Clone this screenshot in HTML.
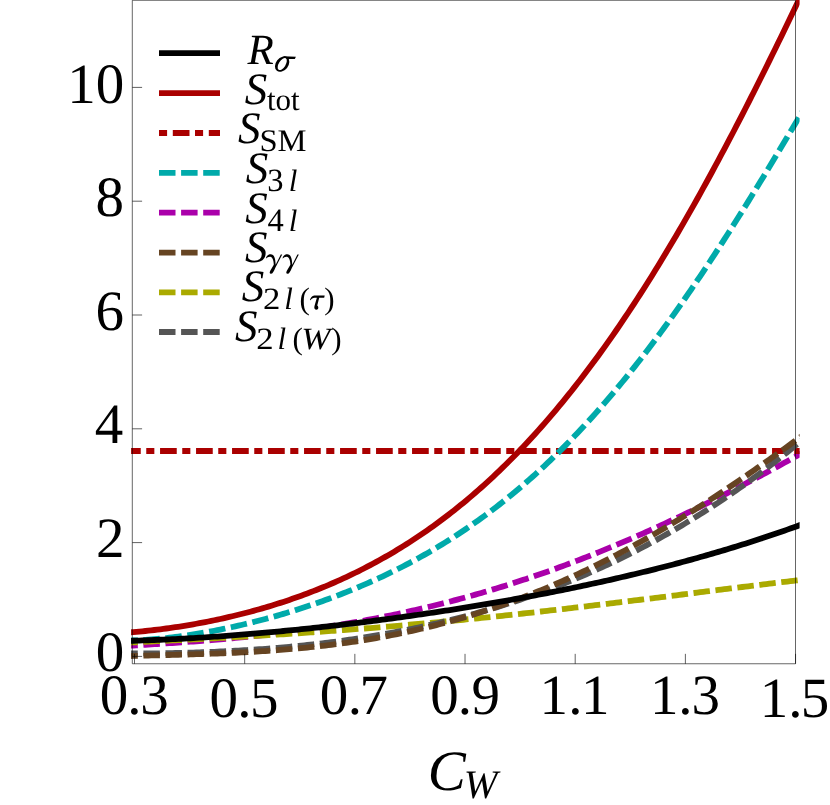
<!DOCTYPE html>
<html><head><meta charset="utf-8"><title>chart</title>
<style>
html,body{margin:0;padding:0;background:#fff;}
body{width:830px;height:805px;overflow:hidden;}
svg{display:block;will-change:transform;}
text{font-family:"Liberation Serif",serif;fill:#000;text-rendering:geometricPrecision;}
</style></head><body>
<svg width="830" height="805" viewBox="0 0 830 805">
<defs><clipPath id="c"><rect x="131.1" y="-5" width="668.5" height="700"/></clipPath></defs>
<rect width="830" height="805" fill="#fff"/>
<g clip-path="url(#c)">
<path d="M121.30,646.21 L124.30,646.04 L127.30,645.86 L130.30,645.68 L133.30,645.50 L136.30,645.32 L139.30,645.14 L142.30,644.95 L145.30,644.77 L148.30,644.58 L151.30,644.39 L154.30,644.20 L157.30,644.01 L160.30,643.82 L163.30,643.62 L166.30,643.42 L169.30,643.22 L172.30,643.01 L175.30,642.81 L178.30,642.60 L181.30,642.39 L184.30,642.17 L187.30,641.95 L190.30,641.73 L193.30,641.51 L196.30,641.28 L199.30,641.05 L202.30,640.81 L205.30,640.57 L208.30,640.33 L211.30,640.09 L214.30,639.84 L217.30,639.58 L220.30,639.32 L223.30,639.06 L226.30,638.79 L229.30,638.52 L232.30,638.25 L235.30,637.97 L238.30,637.68 L241.30,637.39 L244.30,637.10 L247.30,636.80 L250.30,636.49 L253.30,636.18 L256.30,635.87 L259.30,635.55 L262.30,635.22 L265.30,634.89 L268.30,634.56 L271.30,634.22 L274.30,633.87 L277.30,633.52 L280.30,633.16 L283.30,632.79 L286.30,632.42 L289.30,632.05 L292.30,631.66 L295.30,631.27 L298.30,630.88 L301.30,630.48 L304.30,630.07 L307.30,629.66 L310.30,629.24 L313.30,628.81 L316.30,628.38 L319.30,627.94 L322.30,627.49 L325.30,627.04 L328.30,626.58 L331.30,626.11 L334.30,625.63 L337.30,625.15 L340.30,624.66 L343.30,624.17 L346.30,623.67 L349.30,623.16 L352.30,622.64 L355.30,622.11 L358.30,621.58 L361.30,621.04 L364.30,620.50 L367.30,619.94 L370.30,619.38 L373.30,618.81 L376.30,618.23 L379.30,617.65 L382.30,617.05 L385.30,616.45 L388.30,615.85 L391.30,615.23 L394.30,614.61 L397.30,613.97 L400.30,613.33 L403.30,612.69 L406.30,612.03 L409.30,611.36 L412.30,610.69 L415.30,610.01 L418.30,609.32 L421.30,608.63 L424.30,607.92 L427.30,607.21 L430.30,606.49 L433.30,605.76 L436.30,605.02 L439.30,604.27 L442.30,603.51 L445.30,602.75 L448.30,601.98 L451.30,601.20 L454.30,600.41 L457.30,599.61 L460.30,598.80 L463.30,597.99 L466.30,597.17 L469.30,596.33 L472.30,595.49 L475.30,594.64 L478.30,593.79 L481.30,592.92 L484.30,592.04 L487.30,591.16 L490.30,590.27 L493.30,589.37 L496.30,588.46 L499.30,587.54 L502.30,586.61 L505.30,585.67 L508.30,584.73 L511.30,583.78 L514.30,582.81 L517.30,581.84 L520.30,580.86 L523.30,579.87 L526.30,578.88 L529.30,577.87 L532.30,576.86 L535.30,575.83 L538.30,574.80 L541.30,573.76 L544.30,572.71 L547.30,571.65 L550.30,570.59 L553.30,569.51 L556.30,568.43 L559.30,567.33 L562.30,566.23 L565.30,565.12 L568.30,564.00 L571.30,562.87 L574.30,561.74 L577.30,560.59 L580.30,559.44 L583.30,558.28 L586.30,557.11 L589.30,555.93 L592.30,554.74 L595.30,553.55 L598.30,552.34 L601.30,551.13 L604.30,549.91 L607.30,548.68 L610.30,547.44 L613.30,546.20 L616.30,544.94 L619.30,543.68 L622.30,542.41 L625.30,541.13 L628.30,539.85 L631.30,538.55 L634.30,537.25 L637.30,535.94 L640.30,534.62 L643.30,533.29 L646.30,531.96 L649.30,530.61 L652.30,529.26 L655.30,527.90 L658.30,526.54 L661.30,525.16 L664.30,523.78 L667.30,522.39 L670.30,521.00 L673.30,519.59 L676.30,518.18 L679.30,516.76 L682.30,515.33 L685.30,513.90 L688.30,512.46 L691.30,511.01 L694.30,509.55 L697.30,508.09 L700.30,506.62 L703.30,505.14 L706.30,503.66 L709.30,502.17 L712.30,500.67 L715.30,499.16 L718.30,497.65 L721.30,496.14 L724.30,494.61 L727.30,493.08 L730.30,491.54 L733.30,490.00 L736.30,488.45 L739.30,486.89 L742.30,485.33 L745.30,483.76 L748.30,482.18 L751.30,480.60 L754.30,479.01 L757.30,477.42 L760.30,475.82 L763.30,474.22 L766.30,472.61 L769.30,470.99 L772.30,469.37 L775.30,467.74 L778.30,466.11 L781.30,464.47 L784.30,462.83 L787.30,461.18 L790.30,459.53 L793.30,457.87 L796.30,456.21 L799.30,454.54 L802.30,452.87" stroke="#aa00aa" stroke-width="5.8" stroke-dasharray="16.5 5.6" fill="none" stroke-linejoin="round"/>
<path d="M121.30,642.96 L124.30,642.81 L127.30,642.67 L130.30,642.52 L133.30,642.38 L136.30,642.23 L139.30,642.08 L142.30,641.94 L145.30,641.79 L148.30,641.65 L151.30,641.50 L154.30,641.35 L157.30,641.20 L160.30,641.06 L163.30,640.91 L166.30,640.76 L169.30,640.61 L172.30,640.46 L175.30,640.31 L178.30,640.16 L181.30,640.00 L184.30,639.85 L187.30,639.70 L190.30,639.54 L193.30,639.39 L196.30,639.23 L199.30,639.07 L202.30,638.92 L205.30,638.76 L208.30,638.60 L211.30,638.44 L214.30,638.28 L217.30,638.11 L220.30,637.95 L223.30,637.79 L226.30,637.62 L229.30,637.45 L232.30,637.29 L235.30,637.12 L238.30,636.95 L241.30,636.78 L244.30,636.60 L247.30,636.43 L250.30,636.25 L253.30,636.08 L256.30,635.90 L259.30,635.72 L262.30,635.54 L265.30,635.36 L268.30,635.18 L271.30,634.99 L274.30,634.81 L277.30,634.62 L280.30,634.43 L283.30,634.24 L286.30,634.05 L289.30,633.85 L292.30,633.66 L295.30,633.46 L298.30,633.27 L301.30,633.07 L304.30,632.87 L307.30,632.66 L310.30,632.46 L313.30,632.25 L316.30,632.05 L319.30,631.84 L322.30,631.63 L325.30,631.41 L328.30,631.20 L331.30,630.98 L334.30,630.77 L337.30,630.55 L340.30,630.33 L343.30,630.10 L346.30,629.88 L349.30,629.65 L352.30,629.43 L355.30,629.20 L358.30,628.97 L361.30,628.73 L364.30,628.50 L367.30,628.26 L370.30,628.02 L373.30,627.78 L376.30,627.54 L379.30,627.30 L382.30,627.05 L385.30,626.80 L388.30,626.56 L391.30,626.30 L394.30,626.05 L397.30,625.80 L400.30,625.54 L403.30,625.28 L406.30,625.02 L409.30,624.76 L412.30,624.50 L415.30,624.23 L418.30,623.96 L421.30,623.69 L424.30,623.42 L427.30,623.15 L430.30,622.88 L433.30,622.60 L436.30,622.32 L439.30,622.04 L442.30,621.76 L445.30,621.48 L448.30,621.19 L451.30,620.90 L454.30,620.62 L457.30,620.32 L460.30,620.03 L463.30,619.74 L466.30,619.44 L469.30,619.14 L472.30,618.84 L475.30,618.54 L478.30,618.24 L481.30,617.94 L484.30,617.63 L487.30,617.32 L490.30,617.01 L493.30,616.70 L496.30,616.39 L499.30,616.07 L502.30,615.76 L505.30,615.44 L508.30,615.12 L511.30,614.80 L514.30,614.48 L517.30,614.15 L520.30,613.83 L523.30,613.50 L526.30,613.17 L529.30,612.84 L532.30,612.51 L535.30,612.18 L538.30,611.84 L541.30,611.50 L544.30,611.17 L547.30,610.83 L550.30,610.49 L553.30,610.15 L556.30,609.80 L559.30,609.46 L562.30,609.11 L565.30,608.77 L568.30,608.42 L571.30,608.07 L574.30,607.72 L577.30,607.37 L580.30,607.01 L583.30,606.66 L586.30,606.30 L589.30,605.95 L592.30,605.59 L595.30,605.23 L598.30,604.87 L601.30,604.51 L604.30,604.15 L607.30,603.79 L610.30,603.43 L613.30,603.06 L616.30,602.70 L619.30,602.33 L622.30,601.96 L625.30,601.60 L628.30,601.23 L631.30,600.86 L634.30,600.49 L637.30,600.12 L640.30,599.75 L643.30,599.38 L646.30,599.00 L649.30,598.63 L652.30,598.26 L655.30,597.88 L658.30,597.51 L661.30,597.13 L664.30,596.76 L667.30,596.38 L670.30,596.01 L673.30,595.63 L676.30,595.26 L679.30,594.88 L682.30,594.50 L685.30,594.13 L688.30,593.75 L691.30,593.37 L694.30,593.00 L697.30,592.62 L700.30,592.24 L703.30,591.87 L706.30,591.49 L709.30,591.11 L712.30,590.74 L715.30,590.36 L718.30,589.99 L721.30,589.61 L724.30,589.24 L727.30,588.86 L730.30,588.49 L733.30,588.11 L736.30,587.74 L739.30,587.37 L742.30,587.00 L745.30,586.63 L748.30,586.26 L751.30,585.89 L754.30,585.52 L757.30,585.15 L760.30,584.78 L763.30,584.42 L766.30,584.05 L769.30,583.69 L772.30,583.33 L775.30,582.96 L778.30,582.60 L781.30,582.24 L784.30,581.89 L787.30,581.53 L790.30,581.17 L793.30,580.82 L796.30,580.47 L799.30,580.12 L802.30,579.77" stroke="#aaaa00" stroke-width="5.8" stroke-dasharray="16.5 5.6" fill="none" stroke-linejoin="round"/>
<path d="M124.05,451 L803,451" stroke="#aa0000" stroke-width="5.8" stroke-dasharray="16.7 5.5 8.1 5.7" fill="none"/>
<path d="M121.30,653.47 L124.30,653.48 L127.30,653.48 L130.30,653.48 L133.30,653.48 L136.30,653.47 L139.30,653.46 L142.30,653.45 L145.30,653.43 L148.30,653.41 L151.30,653.38 L154.30,653.35 L157.30,653.31 L160.30,653.27 L163.30,653.23 L166.30,653.18 L169.30,653.13 L172.30,653.08 L175.30,653.01 L178.30,652.95 L181.30,652.88 L184.30,652.80 L187.30,652.72 L190.30,652.64 L193.30,652.55 L196.30,652.46 L199.30,652.36 L202.30,652.25 L205.30,652.15 L208.30,652.03 L211.30,651.91 L214.30,651.79 L217.30,651.66 L220.30,651.52 L223.30,651.38 L226.30,651.24 L229.30,651.08 L232.30,650.93 L235.30,650.76 L238.30,650.59 L241.30,650.42 L244.30,650.24 L247.30,650.05 L250.30,649.86 L253.30,649.66 L256.30,649.45 L259.30,649.24 L262.30,649.03 L265.30,648.80 L268.30,648.57 L271.30,648.34 L274.30,648.09 L277.30,647.84 L280.30,647.59 L283.30,647.32 L286.30,647.05 L289.30,646.78 L292.30,646.49 L295.30,646.20 L298.30,645.90 L301.30,645.60 L304.30,645.29 L307.30,644.97 L310.30,644.64 L313.30,644.31 L316.30,643.97 L319.30,643.62 L322.30,643.26 L325.30,642.90 L328.30,642.53 L331.30,642.15 L334.30,641.76 L337.30,641.36 L340.30,640.96 L343.30,640.55 L346.30,640.13 L349.30,639.70 L352.30,639.27 L355.30,638.82 L358.30,638.37 L361.30,637.91 L364.30,637.44 L367.30,636.96 L370.30,636.48 L373.30,635.98 L376.30,635.48 L379.30,634.97 L382.30,634.45 L385.30,633.91 L388.30,633.38 L391.30,632.83 L394.30,632.27 L397.30,631.70 L400.30,631.13 L403.30,630.54 L406.30,629.94 L409.30,629.34 L412.30,628.73 L415.30,628.10 L418.30,627.47 L421.30,626.82 L424.30,626.17 L427.30,625.51 L430.30,624.83 L433.30,624.15 L436.30,623.46 L439.30,622.75 L442.30,622.04 L445.30,621.32 L448.30,620.58 L451.30,619.84 L454.30,619.08 L457.30,618.31 L460.30,617.54 L463.30,616.75 L466.30,615.95 L469.30,615.14 L472.30,614.32 L475.30,613.49 L478.30,612.65 L481.30,611.79 L484.30,610.93 L487.30,610.05 L490.30,609.16 L493.30,608.26 L496.30,607.35 L499.30,606.43 L502.30,605.49 L505.30,604.55 L508.30,603.59 L511.30,602.62 L514.30,601.64 L517.30,600.64 L520.30,599.64 L523.30,598.62 L526.30,597.59 L529.30,596.54 L532.30,595.49 L535.30,594.42 L538.30,593.34 L541.30,592.24 L544.30,591.14 L547.30,590.02 L550.30,588.89 L553.30,587.74 L556.30,586.58 L559.30,585.41 L562.30,584.23 L565.30,583.03 L568.30,581.82 L571.30,580.59 L574.30,579.36 L577.30,578.11 L580.30,576.84 L583.30,575.56 L586.30,574.27 L589.30,572.96 L592.30,571.64 L595.30,570.31 L598.30,568.96 L601.30,567.60 L604.30,566.22 L607.30,564.83 L610.30,563.42 L613.30,562.00 L616.30,560.57 L619.30,559.12 L622.30,557.65 L625.30,556.17 L628.30,554.68 L631.30,553.17 L634.30,551.65 L637.30,550.11 L640.30,548.55 L643.30,546.98 L646.30,545.40 L649.30,543.80 L652.30,542.18 L655.30,540.55 L658.30,538.91 L661.30,537.24 L664.30,535.56 L667.30,533.87 L670.30,532.16 L673.30,530.43 L676.30,528.69 L679.30,526.93 L682.30,525.16 L685.30,523.37 L688.30,521.56 L691.30,519.73 L694.30,517.89 L697.30,516.03 L700.30,514.16 L703.30,512.27 L706.30,510.36 L709.30,508.43 L712.30,506.49 L715.30,504.53 L718.30,502.55 L721.30,500.56 L724.30,498.55 L727.30,496.52 L730.30,494.47 L733.30,492.41 L736.30,490.33 L739.30,488.23 L742.30,486.11 L745.30,483.97 L748.30,481.82 L751.30,479.65 L754.30,477.45 L757.30,475.25 L760.30,473.02 L763.30,470.77 L766.30,468.51 L769.30,466.23 L772.30,463.92 L775.30,461.60 L778.30,459.26 L781.30,456.91 L784.30,454.53 L787.30,452.13 L790.30,449.72 L793.30,447.28 L796.30,444.83 L799.30,442.35 L802.30,439.86" stroke="#555555" stroke-width="5.8" stroke-dasharray="16.5 5.6" fill="none" stroke-linejoin="round"/>
<path d="M121.30,656.33 L124.30,656.24 L127.30,656.14 L130.30,656.05 L133.30,655.96 L136.30,655.88 L139.30,655.79 L142.30,655.71 L145.30,655.62 L148.30,655.54 L151.30,655.46 L154.30,655.38 L157.30,655.30 L160.30,655.23 L163.30,655.15 L166.30,655.07 L169.30,654.99 L172.30,654.91 L175.30,654.83 L178.30,654.75 L181.30,654.66 L184.30,654.58 L187.30,654.49 L190.30,654.40 L193.30,654.31 L196.30,654.22 L199.30,654.13 L202.30,654.03 L205.30,653.93 L208.30,653.82 L211.30,653.72 L214.30,653.61 L217.30,653.49 L220.30,653.38 L223.30,653.25 L226.30,653.13 L229.30,653.00 L232.30,652.86 L235.30,652.73 L238.30,652.58 L241.30,652.43 L244.30,652.28 L247.30,652.12 L250.30,651.95 L253.30,651.78 L256.30,651.61 L259.30,651.42 L262.30,651.23 L265.30,651.04 L268.30,650.84 L271.30,650.63 L274.30,650.41 L277.30,650.19 L280.30,649.96 L283.30,649.72 L286.30,649.48 L289.30,649.23 L292.30,648.97 L295.30,648.70 L298.30,648.43 L301.30,648.14 L304.30,647.85 L307.30,647.55 L310.30,647.24 L313.30,646.93 L316.30,646.60 L319.30,646.27 L322.30,645.92 L325.30,645.57 L328.30,645.21 L331.30,644.83 L334.30,644.45 L337.30,644.06 L340.30,643.66 L343.30,643.25 L346.30,642.83 L349.30,642.40 L352.30,641.96 L355.30,641.51 L358.30,641.04 L361.30,640.57 L364.30,640.09 L367.30,639.60 L370.30,639.09 L373.30,638.58 L376.30,638.05 L379.30,637.51 L382.30,636.96 L385.30,636.40 L388.30,635.83 L391.30,635.25 L394.30,634.65 L397.30,634.05 L400.30,633.43 L403.30,632.80 L406.30,632.16 L409.30,631.50 L412.30,630.84 L415.30,630.16 L418.30,629.47 L421.30,628.77 L424.30,628.06 L427.30,627.33 L430.30,626.59 L433.30,625.84 L436.30,625.07 L439.30,624.30 L442.30,623.51 L445.30,622.70 L448.30,621.89 L451.30,621.06 L454.30,620.22 L457.30,619.37 L460.30,618.50 L463.30,617.62 L466.30,616.73 L469.30,615.82 L472.30,614.90 L475.30,613.97 L478.30,613.02 L481.30,612.07 L484.30,611.09 L487.30,610.11 L490.30,609.11 L493.30,608.10 L496.30,607.07 L499.30,606.03 L502.30,604.98 L505.30,603.91 L508.30,602.83 L511.30,601.74 L514.30,600.64 L517.30,599.52 L520.30,598.38 L523.30,597.23 L526.30,596.07 L529.30,594.90 L532.30,593.71 L535.30,592.51 L538.30,591.30 L541.30,590.07 L544.30,588.82 L547.30,587.57 L550.30,586.30 L553.30,585.02 L556.30,583.72 L559.30,582.41 L562.30,581.09 L565.30,579.75 L568.30,578.40 L571.30,577.03 L574.30,575.66 L577.30,574.27 L580.30,572.86 L583.30,571.44 L586.30,570.01 L589.30,568.57 L592.30,567.11 L595.30,565.64 L598.30,564.15 L601.30,562.66 L604.30,561.14 L607.30,559.62 L610.30,558.08 L613.30,556.53 L616.30,554.97 L619.30,553.39 L622.30,551.80 L625.30,550.20 L628.30,548.59 L631.30,546.96 L634.30,545.32 L637.30,543.66 L640.30,542.00 L643.30,540.32 L646.30,538.63 L649.30,536.93 L652.30,535.21 L655.30,533.48 L658.30,531.74 L661.30,529.99 L664.30,528.23 L667.30,526.45 L670.30,524.66 L673.30,522.86 L676.30,521.05 L679.30,519.22 L682.30,517.39 L685.30,515.54 L688.30,513.68 L691.30,511.81 L694.30,509.93 L697.30,508.04 L700.30,506.14 L703.30,504.22 L706.30,502.30 L709.30,500.36 L712.30,498.41 L715.30,496.45 L718.30,494.49 L721.30,492.51 L724.30,490.52 L727.30,488.52 L730.30,486.51 L733.30,484.49 L736.30,482.46 L739.30,480.42 L742.30,478.37 L745.30,476.32 L748.30,474.25 L751.30,472.17 L754.30,470.09 L757.30,467.99 L760.30,465.89 L763.30,463.77 L766.30,461.65 L769.30,459.52 L772.30,457.39 L775.30,455.24 L778.30,453.08 L781.30,450.92 L784.30,448.75 L787.30,446.57 L790.30,444.39 L793.30,442.19 L796.30,439.99 L799.30,437.79 L802.30,435.57" stroke="#664422" stroke-width="5.8" stroke-dasharray="16.5 5.6" fill="none" stroke-linejoin="round"/>
<path d="M121.30,640.57 L124.30,640.56 L127.30,640.53 L130.30,640.47 L133.30,640.39 L136.30,640.28 L139.30,640.15 L142.30,640.00 L145.30,639.83 L148.30,639.63 L151.30,639.41 L154.30,639.18 L157.30,638.92 L160.30,638.65 L163.30,638.35 L166.30,638.04 L169.30,637.71 L172.30,637.36 L175.30,636.99 L178.30,636.61 L181.30,636.20 L184.30,635.79 L187.30,635.35 L190.30,634.90 L193.30,634.43 L196.30,633.95 L199.30,633.45 L202.30,632.94 L205.30,632.41 L208.30,631.87 L211.30,631.31 L214.30,630.74 L217.30,630.15 L220.30,629.55 L223.30,628.94 L226.30,628.31 L229.30,627.67 L232.30,627.02 L235.30,626.35 L238.30,625.66 L241.30,624.97 L244.30,624.26 L247.30,623.54 L250.30,622.80 L253.30,622.06 L256.30,621.29 L259.30,620.52 L262.30,619.73 L265.30,618.93 L268.30,618.12 L271.30,617.29 L274.30,616.45 L277.30,615.60 L280.30,614.73 L283.30,613.85 L286.30,612.96 L289.30,612.05 L292.30,611.13 L295.30,610.20 L298.30,609.25 L301.30,608.29 L304.30,607.31 L307.30,606.32 L310.30,605.32 L313.30,604.30 L316.30,603.27 L319.30,602.22 L322.30,601.16 L325.30,600.08 L328.30,598.99 L331.30,597.88 L334.30,596.76 L337.30,595.62 L340.30,594.47 L343.30,593.30 L346.30,592.11 L349.30,590.91 L352.30,589.69 L355.30,588.45 L358.30,587.20 L361.30,585.93 L364.30,584.64 L367.30,583.34 L370.30,582.01 L373.30,580.67 L376.30,579.31 L379.30,577.94 L382.30,576.54 L385.30,575.12 L388.30,573.69 L391.30,572.23 L394.30,570.76 L397.30,569.26 L400.30,567.75 L403.30,566.21 L406.30,564.65 L409.30,563.08 L412.30,561.48 L415.30,559.86 L418.30,558.21 L421.30,556.55 L424.30,554.86 L427.30,553.15 L430.30,551.42 L433.30,549.66 L436.30,547.88 L439.30,546.08 L442.30,544.25 L445.30,542.40 L448.30,540.52 L451.30,538.62 L454.30,536.69 L457.30,534.74 L460.30,532.76 L463.30,530.76 L466.30,528.73 L469.30,526.68 L472.30,524.59 L475.30,522.49 L478.30,520.35 L481.30,518.19 L484.30,515.99 L487.30,513.77 L490.30,511.53 L493.30,509.25 L496.30,506.95 L499.30,504.61 L502.30,502.25 L505.30,499.86 L508.30,497.44 L511.30,494.99 L514.30,492.51 L517.30,490.00 L520.30,487.46 L523.30,484.89 L526.30,482.29 L529.30,479.65 L532.30,476.99 L535.30,474.30 L538.30,471.57 L541.30,468.81 L544.30,466.02 L547.30,463.20 L550.30,460.35 L553.30,457.46 L556.30,454.55 L559.30,451.60 L562.30,448.61 L565.30,445.60 L568.30,442.55 L571.30,439.47 L574.30,436.36 L577.30,433.21 L580.30,430.03 L583.30,426.82 L586.30,423.57 L589.30,420.29 L592.30,416.98 L595.30,413.63 L598.30,410.25 L601.30,406.84 L604.30,403.39 L607.30,399.92 L610.30,396.40 L613.30,392.86 L616.30,389.28 L619.30,385.66 L622.30,382.02 L625.30,378.34 L628.30,374.63 L631.30,370.88 L634.30,367.11 L637.30,363.30 L640.30,359.45 L643.30,355.58 L646.30,351.67 L649.30,347.73 L652.30,343.76 L655.30,339.75 L658.30,335.71 L661.30,331.65 L664.30,327.55 L667.30,323.42 L670.30,319.26 L673.30,315.07 L676.30,310.84 L679.30,306.59 L682.30,302.31 L685.30,298.00 L688.30,293.66 L691.30,289.29 L694.30,284.89 L697.30,280.47 L700.30,276.01 L703.30,271.53 L706.30,267.02 L709.30,262.49 L712.30,257.93 L715.30,253.34 L718.30,248.73 L721.30,244.10 L724.30,239.44 L727.30,234.75 L730.30,230.05 L733.30,225.32 L736.30,220.56 L739.30,215.79 L742.30,211.00 L745.30,206.18 L748.30,201.35 L751.30,196.49 L754.30,191.62 L757.30,186.73 L760.30,181.82 L763.30,176.90 L766.30,171.96 L769.30,167.01 L772.30,162.04 L775.30,157.06 L778.30,152.07 L781.30,147.06 L784.30,142.05 L787.30,137.02 L790.30,131.99 L793.30,126.95 L796.30,121.90 L799.30,116.84 L802.30,111.78" stroke="#00aaaa" stroke-width="5.8" stroke-dasharray="16.5 5.6" fill="none" stroke-linejoin="round"/>
<path d="M121.30,632.96 L124.30,632.77 L127.30,632.56 L130.30,632.33 L133.30,632.09 L136.30,631.84 L139.30,631.57 L142.30,631.28 L145.30,630.99 L148.30,630.67 L151.30,630.34 L154.30,630.00 L157.30,629.65 L160.30,629.28 L163.30,628.89 L166.30,628.50 L169.30,628.09 L172.30,627.66 L175.30,627.22 L178.30,626.77 L181.30,626.30 L184.30,625.82 L187.30,625.33 L190.30,624.82 L193.30,624.30 L196.30,623.76 L199.30,623.21 L202.30,622.65 L205.30,622.08 L208.30,621.48 L211.30,620.88 L214.30,620.26 L217.30,619.63 L220.30,618.98 L223.30,618.32 L226.30,617.64 L229.30,616.95 L232.30,616.25 L235.30,615.53 L238.30,614.79 L241.30,614.04 L244.30,613.28 L247.30,612.50 L250.30,611.70 L253.30,610.89 L256.30,610.06 L259.30,609.22 L262.30,608.36 L265.30,607.49 L268.30,606.60 L271.30,605.69 L274.30,604.77 L277.30,603.83 L280.30,602.87 L283.30,601.89 L286.30,600.90 L289.30,599.89 L292.30,598.86 L295.30,597.82 L298.30,596.75 L301.30,595.67 L304.30,594.57 L307.30,593.45 L310.30,592.31 L313.30,591.15 L316.30,589.97 L319.30,588.77 L322.30,587.55 L325.30,586.32 L328.30,585.06 L331.30,583.78 L334.30,582.48 L337.30,581.15 L340.30,579.81 L343.30,578.44 L346.30,577.06 L349.30,575.65 L352.30,574.21 L355.30,572.76 L358.30,571.28 L361.30,569.78 L364.30,568.25 L367.30,566.70 L370.30,565.13 L373.30,563.53 L376.30,561.91 L379.30,560.26 L382.30,558.59 L385.30,556.89 L388.30,555.17 L391.30,553.42 L394.30,551.64 L397.30,549.84 L400.30,548.01 L403.30,546.15 L406.30,544.27 L409.30,542.36 L412.30,540.42 L415.30,538.45 L418.30,536.45 L421.30,534.43 L424.30,532.37 L427.30,530.29 L430.30,528.17 L433.30,526.03 L436.30,523.86 L439.30,521.65 L442.30,519.42 L445.30,517.16 L448.30,514.86 L451.30,512.53 L454.30,510.17 L457.30,507.78 L460.30,505.36 L463.30,502.91 L466.30,500.42 L469.30,497.90 L472.30,495.34 L475.30,492.76 L478.30,490.14 L481.30,487.48 L484.30,484.79 L487.30,482.07 L490.30,479.32 L493.30,476.52 L496.30,473.70 L499.30,470.84 L502.30,467.94 L505.30,465.01 L508.30,462.04 L511.30,459.04 L514.30,456.00 L517.30,452.92 L520.30,449.81 L523.30,446.66 L526.30,443.48 L529.30,440.25 L532.30,436.99 L535.30,433.70 L538.30,430.36 L541.30,426.99 L544.30,423.58 L547.30,420.14 L550.30,416.65 L553.30,413.13 L556.30,409.57 L559.30,405.97 L562.30,402.33 L565.30,398.66 L568.30,394.94 L571.30,391.19 L574.30,387.40 L577.30,383.57 L580.30,379.70 L583.30,375.79 L586.30,371.85 L589.30,367.86 L592.30,363.84 L595.30,359.77 L598.30,355.67 L601.30,351.53 L604.30,347.35 L607.30,343.13 L610.30,338.87 L613.30,334.57 L616.30,330.23 L619.30,325.86 L622.30,321.44 L625.30,316.99 L628.30,312.50 L631.30,307.97 L634.30,303.40 L637.30,298.79 L640.30,294.14 L643.30,289.46 L646.30,284.73 L649.30,279.97 L652.30,275.17 L655.30,270.33 L658.30,265.46 L661.30,260.55 L664.30,255.60 L667.30,250.61 L670.30,245.58 L673.30,240.52 L676.30,235.42 L679.30,230.29 L682.30,225.12 L685.30,219.91 L688.30,214.67 L691.30,209.39 L694.30,204.08 L697.30,198.74 L700.30,193.35 L703.30,187.94 L706.30,182.49 L709.30,177.00 L712.30,171.49 L715.30,165.94 L718.30,160.36 L721.30,154.74 L724.30,149.10 L727.30,143.42 L730.30,137.71 L733.30,131.97 L736.30,126.20 L739.30,120.40 L742.30,114.58 L745.30,108.72 L748.30,102.84 L751.30,96.93 L754.30,90.99 L757.30,85.02 L760.30,79.03 L763.30,73.01 L766.30,66.97 L769.30,60.90 L772.30,54.81 L775.30,48.70 L778.30,42.57 L781.30,36.41 L784.30,30.23 L787.30,24.03 L790.30,17.81 L793.30,11.57 L796.30,5.32 L799.30,-0.96 L802.30,-7.25" stroke="#aa0000" stroke-width="5.8" fill="none" stroke-linejoin="round"/>
<path d="M121.30,641.07 L124.30,641.00 L127.30,640.92 L130.30,640.84 L133.30,640.76 L136.30,640.67 L139.30,640.57 L142.30,640.47 L145.30,640.37 L148.30,640.26 L151.30,640.14 L154.30,640.02 L157.30,639.90 L160.30,639.77 L163.30,639.64 L166.30,639.50 L169.30,639.36 L172.30,639.21 L175.30,639.06 L178.30,638.91 L181.30,638.75 L184.30,638.59 L187.30,638.42 L190.30,638.25 L193.30,638.07 L196.30,637.89 L199.30,637.71 L202.30,637.52 L205.30,637.33 L208.30,637.13 L211.30,636.93 L214.30,636.73 L217.30,636.52 L220.30,636.31 L223.30,636.09 L226.30,635.87 L229.30,635.65 L232.30,635.42 L235.30,635.19 L238.30,634.96 L241.30,634.72 L244.30,634.48 L247.30,634.23 L250.30,633.98 L253.30,633.73 L256.30,633.48 L259.30,633.22 L262.30,632.95 L265.30,632.69 L268.30,632.42 L271.30,632.14 L274.30,631.87 L277.30,631.58 L280.30,631.30 L283.30,631.01 L286.30,630.72 L289.30,630.43 L292.30,630.13 L295.30,629.83 L298.30,629.53 L301.30,629.22 L304.30,628.91 L307.30,628.60 L310.30,628.28 L313.30,627.96 L316.30,627.64 L319.30,627.31 L322.30,626.98 L325.30,626.65 L328.30,626.31 L331.30,625.97 L334.30,625.63 L337.30,625.28 L340.30,624.93 L343.30,624.58 L346.30,624.22 L349.30,623.87 L352.30,623.50 L355.30,623.14 L358.30,622.77 L361.30,622.40 L364.30,622.03 L367.30,621.65 L370.30,621.27 L373.30,620.88 L376.30,620.50 L379.30,620.11 L382.30,619.72 L385.30,619.32 L388.30,618.92 L391.30,618.52 L394.30,618.11 L397.30,617.70 L400.30,617.29 L403.30,616.88 L406.30,616.46 L409.30,616.04 L412.30,615.61 L415.30,615.19 L418.30,614.75 L421.30,614.32 L424.30,613.88 L427.30,613.44 L430.30,613.00 L433.30,612.55 L436.30,612.10 L439.30,611.65 L442.30,611.19 L445.30,610.73 L448.30,610.27 L451.30,609.80 L454.30,609.33 L457.30,608.86 L460.30,608.38 L463.30,607.90 L466.30,607.42 L469.30,606.93 L472.30,606.44 L475.30,605.95 L478.30,605.45 L481.30,604.95 L484.30,604.45 L487.30,603.94 L490.30,603.43 L493.30,602.92 L496.30,602.40 L499.30,601.88 L502.30,601.35 L505.30,600.82 L508.30,600.29 L511.30,599.76 L514.30,599.22 L517.30,598.67 L520.30,598.13 L523.30,597.57 L526.30,597.02 L529.30,596.46 L532.30,595.90 L535.30,595.33 L538.30,594.76 L541.30,594.19 L544.30,593.61 L547.30,593.03 L550.30,592.44 L553.30,591.85 L556.30,591.25 L559.30,590.65 L562.30,590.05 L565.30,589.44 L568.30,588.83 L571.30,588.22 L574.30,587.60 L577.30,586.97 L580.30,586.34 L583.30,585.71 L586.30,585.07 L589.30,584.43 L592.30,583.78 L595.30,583.13 L598.30,582.48 L601.30,581.81 L604.30,581.15 L607.30,580.48 L610.30,579.80 L613.30,579.12 L616.30,578.44 L619.30,577.75 L622.30,577.05 L625.30,576.35 L628.30,575.65 L631.30,574.94 L634.30,574.22 L637.30,573.50 L640.30,572.78 L643.30,572.05 L646.30,571.31 L649.30,570.57 L652.30,569.82 L655.30,569.07 L658.30,568.31 L661.30,567.55 L664.30,566.78 L667.30,566.00 L670.30,565.22 L673.30,564.44 L676.30,563.64 L679.30,562.84 L682.30,562.04 L685.30,561.23 L688.30,560.41 L691.30,559.59 L694.30,558.76 L697.30,557.93 L700.30,557.08 L703.30,556.24 L706.30,555.38 L709.30,554.52 L712.30,553.65 L715.30,552.78 L718.30,551.90 L721.30,551.01 L724.30,550.11 L727.30,549.21 L730.30,548.30 L733.30,547.39 L736.30,546.47 L739.30,545.54 L742.30,544.60 L745.30,543.66 L748.30,542.70 L751.30,541.75 L754.30,540.78 L757.30,539.80 L760.30,538.82 L763.30,537.83 L766.30,536.84 L769.30,535.83 L772.30,534.82 L775.30,533.80 L778.30,532.77 L781.30,531.73 L784.30,530.69 L787.30,529.63 L790.30,528.57 L793.30,527.50 L796.30,526.42 L799.30,525.33 L802.30,524.24" stroke="#000000" stroke-width="5.8" fill="none" stroke-linejoin="round"/>
</g>
<path d="M132.3,0.3 H795.5 V663.75 H132.3 Z" fill="none" stroke="#000" stroke-opacity="0.6" stroke-width="1"/>
<path d="M132.3,656.40 h9.8 M132.3,542.60 h9.8 M132.3,428.80 h9.8 M132.3,315.00 h9.8 M132.3,201.20 h9.8 M132.3,87.40 h9.8 M134.50,663.75 v-9.9 M244.68,663.75 v-9.9 M354.85,663.75 v-9.9 M465.03,663.75 v-9.9 M575.20,663.75 v-9.9 M685.38,663.75 v-9.9 M795.55,663.75 v-9.9" stroke="#000" stroke-opacity="0.78" stroke-width="0.8" fill="none"/>
<g>
<text x="67.25 95.85" y="103" font-size="57">10</text>
<text x="95.60" y="216" font-size="57">8</text>
<text x="95.38" y="330" font-size="57">6</text>
<text x="94.79" y="443" font-size="57">4</text>
<text x="95.96" y="557" font-size="57">2</text>
<text x="95.75" y="671" font-size="57">0</text>
<text x="99.85 127.28 140.24" y="714" font-size="57">0.3</text>
<text x="209.60 237.18 249.96" y="717" font-size="57">0.5</text>
<text x="319.70 347.73 359.40" y="714" font-size="57">0.7</text>
<text x="430.30 457.73 471.61" y="714" font-size="57">0.9</text>
<text x="539.50 568.27 580.95" y="714" font-size="57">1.1</text>
<text x="649.90 678.27 691.49" y="714" font-size="57">1.3</text>
<text x="759.85 788.33 800.81" y="717" font-size="57">1.5</text>
<text x="427.8" y="789.8" font-size="57" font-style="italic">C</text>
<text x="463.8" y="798.4" font-size="40.5" font-style="italic">W</text>
</g>
<g>
<path d="M159,53.2 H220" stroke="#000000" stroke-width="5.8" fill="none"/>
<path d="M159,93.1 H220" stroke="#aa0000" stroke-width="5.8" fill="none"/>
<path d="M159,133.0 H220" stroke="#aa0000" stroke-width="5.8" stroke-dasharray="8.1 5.7 16.7 5.5" fill="none"/>
<path d="M159,172.9 H220" stroke="#00aaaa" stroke-width="5.8" stroke-dasharray="16.5 5.6" fill="none"/>
<path d="M159,212.7 H220" stroke="#aa00aa" stroke-width="5.8" stroke-dasharray="16.5 5.6" fill="none"/>
<path d="M159,252.6 H220" stroke="#664422" stroke-width="5.8" stroke-dasharray="16.5 5.6" fill="none"/>
<path d="M159,292.4 H220" stroke="#aaaa00" stroke-width="5.8" stroke-dasharray="16.5 5.6" fill="none"/>
<path d="M159,332.0 H220" stroke="#555555" stroke-width="5.8" stroke-dasharray="16.5 5.6" fill="none"/>
<text x="247.5" y="63.8" font-size="43" font-style="italic">R</text>
<g><ellipse cx="282.14" cy="64.1" rx="6.21" ry="8.55" transform="rotate(38 282.14 64.1)"/><ellipse cx="282.24" cy="64.1" rx="3.38" ry="6.76" transform="rotate(32 282.24 64.1)" fill="#fff"/><path d="M283,56.15 L295.9,56.8 L294.8,59.1 L287.6,59.1 Z"/></g>
<text x="244.7" y="104.0" font-size="45" font-style="italic">S</text>
<text x="267.0" y="110" font-size="31">tot</text>
<text x="237.9" y="142.8" font-size="45" font-style="italic">S</text>
<text transform="translate(259.4 151) scale(1.035 1)" font-size="31.5">SM</text>
<text x="245.7" y="183.0" font-size="45" font-style="italic">S</text>
<text x="267.2" y="191" font-size="32.5">3</text>
<text x="288.7" y="191.2" font-size="31" font-style="italic">l</text>
<text x="245.3" y="222.5" font-size="45" font-style="italic">S</text>
<text x="267.5" y="231" font-size="32.5">4</text>
<text x="288.7" y="230.7" font-size="31" font-style="italic">l</text>
<text x="244.9" y="261.6" font-size="45" font-style="italic">S</text>
<path d="M 265.90,258.51 C 266.21,255.84 268.39,254.16 270.87,254.29 C 273.98,254.41 275.53,258.01 275.65,264.84 L 280.81,254.41 L 282.24,254.41 L 275.22,267.95 C 273.98,271.06 272.73,273.85 270.87,273.85 C 269.63,273.85 269.32,272.30 270.25,270.75 L 273.79,264.84 C 273.79,260.50 272.42,257.08 270.25,256.77 C 268.39,256.65 267.14,257.70 265.90,258.51 Z"/>
<path d="M 282.50,258.51 C 282.81,255.84 284.99,254.16 287.47,254.29 C 290.58,254.41 292.13,258.01 292.25,264.84 L 297.41,254.41 L 298.84,254.41 L 291.82,267.95 C 290.58,271.06 289.33,273.85 287.47,273.85 C 286.23,273.85 285.92,272.30 286.85,270.75 L 290.39,264.84 C 290.39,260.50 289.02,257.08 286.85,256.77 C 284.99,256.65 283.74,257.70 282.50,258.51 Z"/>
<text x="241.7" y="301.4" font-size="45" font-style="italic">S</text>
<text transform="translate(262.9 308.9) scale(1.12 1)" font-size="31">2</text>
<text x="284.2" y="309.0" font-size="31" font-style="italic">l</text>
<text x="299.5" y="309.2" font-size="31">(</text>
<path d="M 309.91,300.00 C 310.53,297.70 312.08,295.53 314.25,295.40 L 324.69,295.40 L 324.19,297.64 L 319.22,297.64 L 317.24,305.47 C 318.11,306.09 318.73,307.64 318.11,308.70 C 317.36,309.94 315.37,310.06 314.63,308.70 C 314.07,307.70 314.38,306.40 314.69,305.16 L 316.86,297.64 L 314.75,297.64 C 312.89,297.64 311.40,298.51 310.53,300.19 Z"/>
<text x="324.3" y="309.2" font-size="31">)</text>
<text x="235.1" y="340.8" font-size="45" font-style="italic">S</text>
<text transform="translate(256.2 348.5) scale(1.12 1)" font-size="31">2</text>
<text x="277.4" y="348.6" font-size="31" font-style="italic">l</text>
<text x="292.5" y="348.8" font-size="31">(</text>
<text transform="translate(301.3 348.8) scale(1.13 1)" font-size="31" font-style="italic">W</text>
<text x="331.3" y="348.8" font-size="31">)</text>
</g>
</svg>
</body></html>
